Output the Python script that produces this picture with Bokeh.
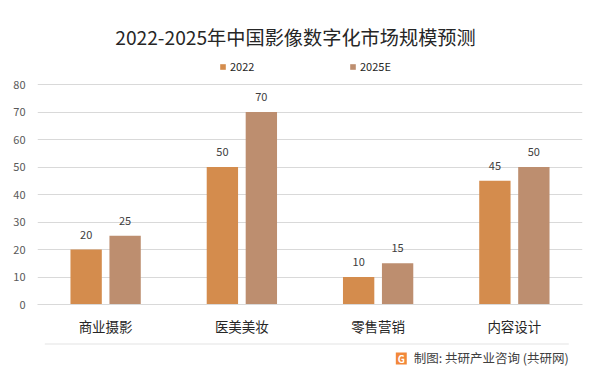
from bokeh.plotting import figure
from bokeh.layouts import column
from bokeh.models import (ColumnDataSource, FactorRange, Range1d, LabelSet, Label,
                          Legend, LegendItem, FixedTicker)
from bokeh.transform import dodge
from bokeh.embed import file_html
from bokeh.resources import INLINE
from bokeh.core.properties import value

categories = ["商业摄影", "医美美妆", "零售营销", "内容设计"]
values_2022 = [20, 50, 10, 45]
values_2025e = [25, 70, 15, 50]
series_names = ["2022", "2025E"]
y_ticks = [0, 10, 20, 30, 40, 50, 60, 70, 80]
title_text = "2022-2025年中国影像数字化市场规模预测"
caption_text = "制图: 共研产业咨询 (共研网)"
logo_text = "G"

c2022 = "#D48C4D"
c2025 = "#BD8E6F"
FONT = "Noto Sans CJK SC"

src = ColumnDataSource(dict(cat=categories, a=values_2022, b=values_2025e,
                            la=[str(v) for v in values_2022],
                            lb=[str(v) for v in values_2025e]))

W = 597
H_MAIN, H_FOOT = 340, 35
# frame spans page y 0..304 ; 2.75 px per unit so that 80 sits at y=84
p = figure(x_range=FactorRange(*categories), y_range=Range1d(0, 304 / 2.75),
           width=W, height=H_MAIN, output_backend="svg", toolbar_location=None,
           min_border_left=37, min_border_right=15, min_border_top=0,
           min_border_bottom=H_MAIN - 304)
p.outline_line_color = None
p.background_fill_color = "white"
p.border_fill_color = "white"

r1 = p.vbar(x=dodge("cat", -0.143, range=p.x_range), top="a", width=0.23,
            source=src, fill_color=c2022, line_color=None)
r2 = p.vbar(x=dodge("cat", 0.143, range=p.x_range), top="b", width=0.23,
            source=src, fill_color=c2025, line_color=None)

for col, lab, off in (("a", "la", -0.143), ("b", "lb", 0.143)):
    ls = LabelSet(x=dodge("cat", off, range=p.x_range), y=col, text=lab, source=src,
                  text_align="center", text_baseline="bottom", y_offset=11,
                  text_font_size="11px", text_color="#404040", text_font=value(FONT))
    p.add_layout(ls)

# axes
p.yaxis.ticker = FixedTicker(ticks=y_ticks)
p.yaxis.axis_line_color = None
p.yaxis.major_tick_line_color = None
p.yaxis.minor_tick_line_color = None
p.yaxis.major_tick_out = 0
p.yaxis.major_tick_in = 0
p.yaxis.major_label_standoff = 12
p.yaxis.major_label_text_font_size = "11px"
p.yaxis.major_label_text_color = "#595959"
p.yaxis.major_label_text_font = FONT

p.xaxis.axis_line_color = "#D9D9D9"
p.xaxis.major_tick_line_color = None
p.xaxis.minor_tick_line_color = None
p.xaxis.major_tick_out = 0
p.xaxis.major_tick_in = 0
p.xaxis.major_label_standoff = 11
p.xaxis.major_label_text_font_size = "13.5px"
p.xaxis.major_label_text_color = "#262626"
p.xaxis.major_label_text_font = FONT

p.xgrid.grid_line_color = None
p.ygrid.grid_line_color = "#D9D9D9"
p.ygrid.grid_line_width = 1

# legend (inside the top strip of the frame)
legend = Legend(items=[LegendItem(label=series_names[0], renderers=[r1]),
                       LegendItem(label=series_names[1], renderers=[r2])],
                orientation="horizontal", location=(182, 230),
                glyph_width=7, glyph_height=7, label_standoff=4, label_width=40,
                spacing=79, padding=0, margin=0,
                border_line_color=None, background_fill_alpha=0,
                label_text_font_size="11px", label_text_color="#262626",
                label_text_font=FONT, label_height=14)
p.add_layout(legend, "center")

# title (screen units relative to the frame's bottom-left corner)
p.add_layout(Label(x=258, y=268, x_units="screen", y_units="screen",
                   text=title_text, text_align="center", text_baseline="middle",
                   text_font_size="19.2px", text_color="#262626", text_font=FONT))

# footer: separator line, logo and source caption
f = figure(width=W, height=H_FOOT, x_range=Range1d(0, W), y_range=Range1d(H_FOOT, 0),
           output_backend="svg", toolbar_location=None,
           min_border=0, min_border_left=0, min_border_right=0,
           min_border_top=0, min_border_bottom=0)
f.axis.visible = False
f.grid.visible = False
f.outline_line_color = None
f.background_fill_color = "white"
f.border_fill_color = "white"
f.segment(x0=[8], y0=[3.5], x1=[582], y1=[3.5], line_color="#E3E3E3", line_width=1)
f.rect(x=[398.5], y=[18], width=12, height=12, fill_color="#F2883A", line_color=None)
f.text(x=[398.5], y=[18], text=[logo_text], text_align="center", text_baseline="middle",
       text_font=value(FONT), text_font_size="10px", text_font_style="bold",
       text_color="white")
f.text(x=[582], y=[17], text=[caption_text], text_align="right", text_baseline="middle",
       text_font=value(FONT), text_font_size="12.5px", text_color="#404040")

layout = column(p, f, spacing=0)
open("out.html", "w").write(file_html(layout, INLINE))
